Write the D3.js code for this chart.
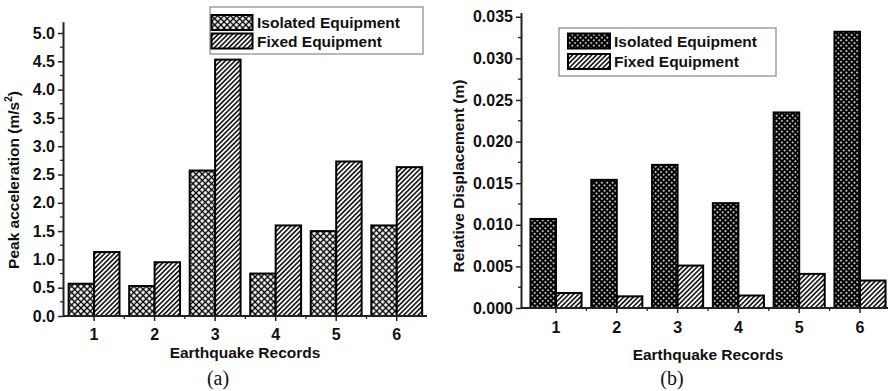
<!DOCTYPE html>
<html>
<head>
<meta charset="utf-8">
<script src="https://cdn.jsdelivr.net/npm/d3@7"></script>
<style>
  html, body { margin: 0; padding: 0; background: #fff; }
  text { font-family: Arial, "Liberation Sans", sans-serif; font-weight: bold; fill: #111; }
</style>
</head>
<body>
<svg id="chart" width="888" height="391"></svg>
<script>
// ---------- data ----------
const categories = [1, 2, 3, 4, 5, 6];
const seriesNames = ["Isolated Equipment", "Fixed Equipment"];
// (a) Peak acceleration (m/s^2)
const accelIsolated = [0.57, 0.53, 2.57, 0.75, 1.50, 1.60];
const accelFixed    = [1.13, 0.95, 4.53, 1.60, 2.73, 2.63];
// (b) Relative displacement (m)
const dispIsolated = [0.0107, 0.0154, 0.0172, 0.0126, 0.0235, 0.0332];
const dispFixed    = [0.0018, 0.0014, 0.0051, 0.0015, 0.0041, 0.0033];
// tick labels
const accelTicks = [0.0, 0.5, 1.0, 1.5, 2.0, 2.5, 3.0, 3.5, 4.0, 4.5, 5.0];
const dispTicks  = [0.000, 0.005, 0.010, 0.015, 0.020, 0.025, 0.030, 0.035];
const xTitle = "Earthquake Records";

const svg = d3.select("#chart");
const defs = svg.append("defs");

function gridPattern(id, size, sw) {
  const p = defs.append("pattern").attr("id", id).attr("patternUnits", "userSpaceOnUse")
    .attr("width", size).attr("height", size).attr("patternTransform", "rotate(45)");
  p.append("rect").attr("width", size).attr("height", size).attr("fill", "#fff");
  p.append("line").attr("x1", 0).attr("y1", size / 2).attr("x2", size).attr("y2", size / 2).attr("stroke", "#000").attr("stroke-width", sw);
  p.append("line").attr("x1", size / 2).attr("y1", 0).attr("x2", size / 2).attr("y2", size).attr("stroke", "#000").attr("stroke-width", sw);
}
function stripePattern(id, size, sw) {
  const p = defs.append("pattern").attr("id", id).attr("patternUnits", "userSpaceOnUse")
    .attr("width", size).attr("height", size).attr("patternTransform", "rotate(45)");
  p.append("rect").attr("width", size).attr("height", size).attr("fill", "#fff");
  p.append("line").attr("x1", size / 2).attr("y1", 0).attr("x2", size / 2).attr("y2", size).attr("stroke", "#000").attr("stroke-width", sw);
}
gridPattern("crossA", 4.4, 1.4);
gridPattern("crossB", 3.8, 2.2);
stripePattern("stripe", 3.4, 1.5);

function drawPanel(cfg) {
  const g = svg.append("g");
  const x = d3.scaleLinear().domain([0.5, 6.5]).range([cfg.x0, cfg.x1]);
  const y = d3.scaleLinear().domain(cfg.yDomain).range([cfg.yBottom, cfg.yTop]);
  const bw = 0.42;

  // bars
  const data = categories.map((c, i) => ({ c, iso: cfg.iso[i], fix: cfg.fix[i] }));
  g.selectAll("rect.iso").data(data).join("rect")
    .attr("x", d => x(d.c - bw)).attr("width", d => x(d.c) - x(d.c - bw))
    .attr("y", d => y(d.iso)).attr("height", d => y(0) - y(d.iso))
    .attr("fill", `url(#${cfg.isoPat})`).attr("stroke", "#000").attr("stroke-width", 2);
  g.selectAll("rect.fix").data(data).join("rect")
    .attr("x", d => x(d.c)).attr("width", d => x(d.c + bw) - x(d.c))
    .attr("y", d => y(d.fix)).attr("height", d => y(0) - y(d.fix))
    .attr("fill", "url(#stripe)").attr("stroke", "#000").attr("stroke-width", 2);

  // y axis
  const yAx = g.append("g").attr("transform", `translate(${cfg.axisX},0)`)
    .call(d3.axisLeft(y).tickValues(cfg.ticks).tickFormat(cfg.fmt).tickSize(5).tickPadding(3).tickSizeOuter(0));
  yAx.select(".domain").attr("stroke", "#222").attr("stroke-width", 2);
  yAx.selectAll(".tick line").attr("stroke", "#222").attr("stroke-width", 1.5);
  yAx.selectAll(".tick text").style("font-size", "16px").style("font-weight", "bold").attr("fill", "#111");
  const minors = cfg.ticks.slice(0, -1).map((t, i) => (t + cfg.ticks[i + 1]) / 2);
  g.selectAll("line.ym").data(minors).join("line")
    .attr("x1", cfg.axisX - 3).attr("x2", cfg.axisX).attr("y1", d => y(d)).attr("y2", d => y(d))
    .attr("stroke", "#222").attr("stroke-width", 1.3);

  // x axis
  const base = y(0);
  g.append("line").attr("x1", cfg.axisX).attr("x2", cfg.xEnd).attr("y1", base).attr("y2", base)
    .attr("stroke", "#222").attr("stroke-width", 2);
  g.selectAll("line.xM").data(categories).join("line")
    .attr("x1", d => x(d)).attr("x2", d => x(d)).attr("y1", base).attr("y2", base + 5)
    .attr("stroke", "#222").attr("stroke-width", 1.5);
  g.selectAll("line.xm").data(categories.slice(0, -1).map(c => c + 0.5)).join("line")
    .attr("x1", d => x(d)).attr("x2", d => x(d)).attr("y1", base).attr("y2", base + 3)
    .attr("stroke", "#222").attr("stroke-width", 1.3);
  g.selectAll("text.xl").data(categories).join("text")
    .attr("x", d => x(d)).attr("y", base + cfg.xLabOff).attr("text-anchor", "middle")
    .attr("dominant-baseline", "central").style("font-size", "16px").text(d => d);

  // titles
  g.append("text").attr("x", cfg.xTitleX).attr("y", cfg.xTitleY).attr("text-anchor", "middle")
    .attr("dominant-baseline", "central").style("font-size", "15.5px").text(xTitle);
  const yt = g.append("text").attr("transform", `translate(${cfg.yTitleX},${cfg.yTitleY}) rotate(-90)`)
    .attr("text-anchor", "middle").attr("dominant-baseline", "central").style("font-size", "15.5px");
  yt.append("tspan").text(cfg.yTitle);
  if (cfg.sup) {
    yt.append("tspan").attr("dy", -5).style("font-size", "10px").text(cfg.sup);
    yt.append("tspan").attr("dy", 5).text(")");
  }
  svg.append("text").attr("x", cfg.panelX).attr("y", 378).attr("text-anchor", "middle")
    .attr("dominant-baseline", "central")
    .style("font-family", "'Liberation Serif', 'Times New Roman', serif").style("font-weight", "normal")
    .style("font-size", "20px").text(cfg.panel);

  // legend
  const L = cfg.legend;
  g.append("rect").attr("x", L.x).attr("y", L.y).attr("width", L.w).attr("height", L.h)
    .attr("fill", "#fff").attr("stroke", "#888").attr("stroke-width", 1.2);
  const pats = [cfg.isoPat, "stripe"];
  seriesNames.forEach((name, i) => {
    g.append("rect").attr("x", L.sx).attr("y", L.rows[i]).attr("width", L.sw).attr("height", L.sh)
      .attr("fill", `url(#${pats[i]})`).attr("stroke", "#000").attr("stroke-width", 2);
    g.append("text").attr("x", L.tx).attr("y", L.rows[i] + L.sh / 2).attr("dominant-baseline", "central")
      .style("font-size", "15.5px").text(name);
  });
}

drawPanel({
  x0: 63.8, x1: 427, axisX: 63, xEnd: 427, yBottom: 316, yTop: 21.7, yDomain: [0, 5.2],
  iso: accelIsolated, fix: accelFixed, isoPat: "crossA", ticks: accelTicks, fmt: d3.format(".1f"),
  xLabOff: 18, xTitleX: 245, xTitleY: 352, yTitleX: 13, yTitleY: 180,
  yTitle: "Peak acceleration (m/s", sup: "2", panel: "(a)", panelX: 218,
  legend: { x: 210, y: 7, w: 213, h: 47, sx: 211.5, sw: 41, sh: 15, rows: [15, 33.5], tx: 257 }
});
drawPanel({
  x0: 525.6, x1: 890.4, axisX: 521, xEnd: 888, yBottom: 308, yTop: 12.6, yDomain: [0, 0.0355],
  iso: dispIsolated, fix: dispFixed, isoPat: "crossB", ticks: dispTicks, fmt: d3.format(".3f"),
  xLabOff: 19, xTitleX: 708, xTitleY: 354, yTitleX: 458, yTitleY: 176,
  yTitle: "Relative Displacement (m)", sup: null, panel: "(b)", panelX: 672,
  legend: { x: 559, y: 28, w: 217, h: 48, sx: 568, sw: 42, sh: 15, rows: [33.5, 54], tx: 614 }
});
</script>
</body>
</html>
